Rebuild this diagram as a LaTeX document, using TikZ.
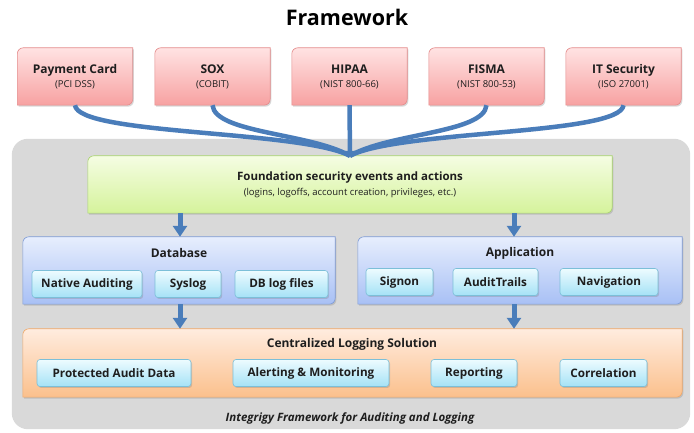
\documentclass[tikz,border=0pt]{standalone}
\usepackage{fontspec}
\setmainfont{Open Sans}
\usetikzlibrary{arrows.meta,backgrounds,shadows}

\definecolor{pinktop}{HTML}{FFE3E3}
\definecolor{pinkbot}{HTML}{F7A1A1}
\definecolor{pinkline}{HTML}{E48B8B}
\definecolor{greentop}{HTML}{F5FDE3}
\definecolor{greenbot}{HTML}{D5F39B}
\definecolor{greenline}{HTML}{A9D46E}
\definecolor{bluetop}{HTML}{E7EEFD}
\definecolor{bluebot}{HTML}{A8C0F5}
\definecolor{blueline}{HTML}{7E9BD6}
\definecolor{celltop}{HTML}{EDFBFF}
\definecolor{cellbot}{HTML}{A5E2F6}
\definecolor{cellline}{HTML}{7CBFD8}
\definecolor{orangetop}{HTML}{FFECDF}
\definecolor{orangebot}{HTML}{FBC08C}
\definecolor{orangeline}{HTML}{F0A868}
\definecolor{framegray}{HTML}{D9D9D9}
\definecolor{flowblue}{HTML}{4A7DBA}
\definecolor{inkgray}{HTML}{1E1E1E}

% box with round top-left and bottom-right corners, drawn behind node #1
\newcommand{\diagbox}[2]{%
  \path[#2] (#1.south west) -- ([yshift=-6pt]#1.north west)
    arc[start angle=180,end angle=90,radius=6pt] -- (#1.north east)
    -- ([yshift=6pt]#1.south east)
    arc[start angle=0,end angle=-90,radius=6pt] -- cycle;}

\tikzset{
  boxshadow/.style={drop shadow={shadow xshift=1.2pt,shadow yshift=-1.5pt,opacity=0.3}},
  pinkbox/.style={boxshadow,top color=pinktop,bottom color=pinkbot,draw=pinkline,line width=0.6pt},
  greenbox/.style={boxshadow,top color=greentop,bottom color=greenbot,draw=greenline,line width=0.6pt},
  bluebox/.style={boxshadow,top color=bluetop,bottom color=bluebot,draw=blueline,line width=0.6pt},
  orangebox/.style={boxshadow,top color=orangetop,bottom color=orangebot,draw=orangeline,line width=0.6pt},
  holder/.style={inner sep=0pt,minimum width=#1},
  stdbox/.style={holder=115pt,minimum height=57pt,align=center,text=inkgray},
  cell/.style={draw=cellline,line width=0.6pt,top color=celltop,bottom color=cellbot,
    rounded corners=3pt,boxshadow,minimum width=#1,minimum height=27pt,inner sep=1pt,
    text=inkgray,font=\bfseries\fontsize{11.7}{14}\selectfont},
  heading/.style={text=inkgray,font=\bfseries\fontsize{12}{15}\selectfont},
  flow/.style={draw=flowblue,line width=5pt,-{Triangle[width=14pt,length=11pt]}},
  merge/.style={draw=flowblue,line width=4.5pt}
}

\newcommand{\stdname}[2]{{\bfseries\fontsize{12}{15}\selectfont #1}\\[2pt]{\fontsize{9.5}{11}\selectfont (#2)}}

\begin{document}
\begin{tikzpicture}[x=1pt,y=1pt]
  \useasboundingbox (0,0) rectangle (694,433);

  \node[text=black,font=\bfseries\fontsize{21.5}{26}\selectfont] (title) at (347,416) {Framework};

  % standards
  \node[stdbox] (pci) at (75,356.5) {\stdname{Payment Card}{PCI DSS}};
  \node[stdbox] (sox) at (212.5,356.5) {\stdname{SOX}{COBIT}};
  \node[stdbox] (hipaa) at (349.5,356.5) {\stdname{HIPAA}{NIST 800-66}};
  \node[stdbox] (fisma) at (486.5,356.5) {\stdname{FISMA}{NIST 800-53}};
  \node[stdbox] (iso) at (623.5,356.5) {\stdname{IT Security}{ISO 27001}};

  % frame
  \node[holder=678pt,minimum height=290pt] (frame) at (351,149) {};
  \node[text=inkgray,font=\bfseries\itshape\fontsize{11.5}{14}\selectfont] (caption) at (350,15)
    {Integrigy Framework for Auditing and Logging};

  % foundation
  \node[holder=524pt,minimum height=57pt,align=center,text=inkgray] (found) at (350,248.5)
    {{\bfseries\fontsize{11.5}{14}\selectfont Foundation security events and actions}\\[3pt]
     {\fontsize{9.5}{11}\selectfont (logins, logoffs, account creation, privileges, etc.)}};

  % database
  \node[holder=312pt,minimum height=67pt] (db) at (179,162.5) {};
  \node[heading] (dbtitle) at (179,180) {Database};
  \node[cell=110pt] (native) at (87,149) {Native Auditing};
  \node[cell=66pt] (syslog) at (188,149) {Syslog};
  \node[cell=93pt] (dblog) at (281.5,149) {DB log files};

  % application
  \node[holder=324pt,minimum height=67pt] (app) at (520,162.5) {};
  \node[heading] (apptitle) at (520,180) {Application};
  \node[cell=67pt] (signon) at (399.5,151) {Signon};
  \node[cell=85pt] (trails) at (495.5,151) {AuditTrails};
  \node[cell=98pt] (navig) at (609,151) {Navigation};

  % centralized logging
  \node[holder=659pt,minimum height=68pt] (central) at (352.5,70) {};
  \node[heading] (centtitle) at (352,89) {Centralized Logging Solution};
  \node[cell=154pt] (protect) at (114,60) {Protected Audit Data};
  \node[cell=156pt] (alert) at (311,60) {Alerting \& Monitoring};
  \node[cell=86pt] (report) at (474,60) {Reporting};
  \node[cell=87pt] (correl) at (603.5,60) {Correlation};

  \begin{scope}[on background layer]
    \fill[white] (0,0) rectangle (694,433);
    \fill[framegray,rounded corners=16pt] (frame.south west) rectangle (frame.north east);
    \foreach \n in {pci,sox,hipaa,fisma,iso} {\diagbox{\n}{pinkbox}}
    \diagbox{found}{greenbox}
    \diagbox{db}{bluebox}
    \diagbox{app}{bluebox}
    \diagbox{central}{orangebox}
  \end{scope}

  % standards into foundation
  \draw[merge] (pci.south) .. controls +(3,-30) and (300,303) .. (found.north);
  \draw[merge] (sox.south) .. controls +(2.5,-28) and (310,300) .. (found.north);
  \draw[merge] (fisma.south) .. controls +(-2.5,-28) and (389,300) .. (found.north);
  \draw[merge] (iso.south) .. controls +(-3,-30) and (399,303) .. (found.north);
  \draw[merge,-{Triangle[width=10pt,length=5pt]}] (hipaa.south) -- (found.north);

  % flows
  \coordinate (leftx) at (180,0);
  \coordinate (rightx) at (514,0);
  \draw[flow] (found.south -| leftx) -- (db.north -| leftx);
  \draw[flow] (found.south -| rightx) -- (app.north -| rightx);
  \draw[flow] (db.south -| leftx) -- (central.north -| leftx);
  \draw[flow] (app.south -| rightx) -- (central.north -| rightx);
\end{tikzpicture}
\end{document}
